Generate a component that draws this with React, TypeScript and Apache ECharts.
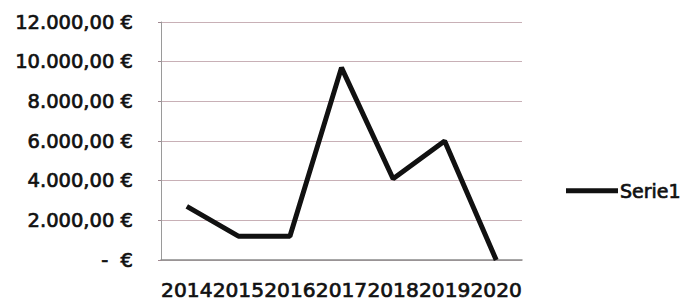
import React, { useEffect, useRef } from "react";
import * as echarts from "echarts";

const categories = ["2014", "2015", "2016", "2017", "2018", "2019", "2020"];
const serie1 = [2700, 1200, 1200, 9700, 4100, 6000, 0];
const yTicks = [0, 2000, 4000, 6000, 8000, 10000, 12000];

function fmtEuro(v: number): string {
  if (v === 0) return "-  €";
  const s = Math.round(v).toString().replace(/\B(?=(\d{3})+(?!\d))/g, ".");
  return s + ",00 €";
}

const textBase = {
  fontFamily: "DejaVu Sans",
  color: "#111",
  textBorderColor: "#111",
  textBorderWidth: 0.7,
};

export default function App() {
  const ref = useRef<HTMLDivElement>(null);
  useEffect(() => {
    if (!ref.current) return;
    const chart = echarts.init(ref.current, null, { renderer: "svg" });
    chart.setOption({
      animation: false,
      backgroundColor: "#ffffff",
      grid: { left: 161, right: 160, top: 22, bottom: 46, containLabel: false },
      legend: {
        data: ["Serie1"],
        orient: "vertical",
        left: 561,
        top: 176,
        icon: "rect",
        itemWidth: 52,
        itemHeight: 5,
        itemGap: 0,
        textStyle: { ...textBase, fontSize: 19, padding: [0, 0, 0, -3] },
      },
      xAxis: {
        type: "category",
        data: categories,
        boundaryGap: true,
        axisLine: { show: true, lineStyle: { color: "#8a8a8a", width: 1.5 } },
        axisTick: { show: false },
        axisLabel: {
          ...textBase,
          interval: 0,
          margin: 20,
          fontSize: 20.2,
        },
      },
      yAxis: {
        type: "value",
        min: 0,
        max: 12000,
        interval: 2000,
        axisLine: { show: true, lineStyle: { color: "#9a9a9a", width: 1 } },
        axisTick: { show: true, length: 3, lineStyle: { color: "#a08890" } },
        splitLine: { show: true, lineStyle: { color: "#c8b0b6", width: 1 } },
        axisLabel: {
          ...textBase,
          margin: 28,
          fontSize: 19.5,
          formatter: (v: number) => (yTicks.includes(v) ? fmtEuro(v) : ""),
        },
      },
      series: [
        {
          name: "Serie1",
          type: "line",
          data: serie1,
          symbol: "none",
          lineStyle: { color: "#111", width: 5 },
          itemStyle: { color: "#111" },
        },
      ],
    });
    return () => chart.dispose();
  }, []);
  return <div ref={ref} style={{ width: 682, height: 306, position: "absolute", left: 0, top: 0 }} />;
}
